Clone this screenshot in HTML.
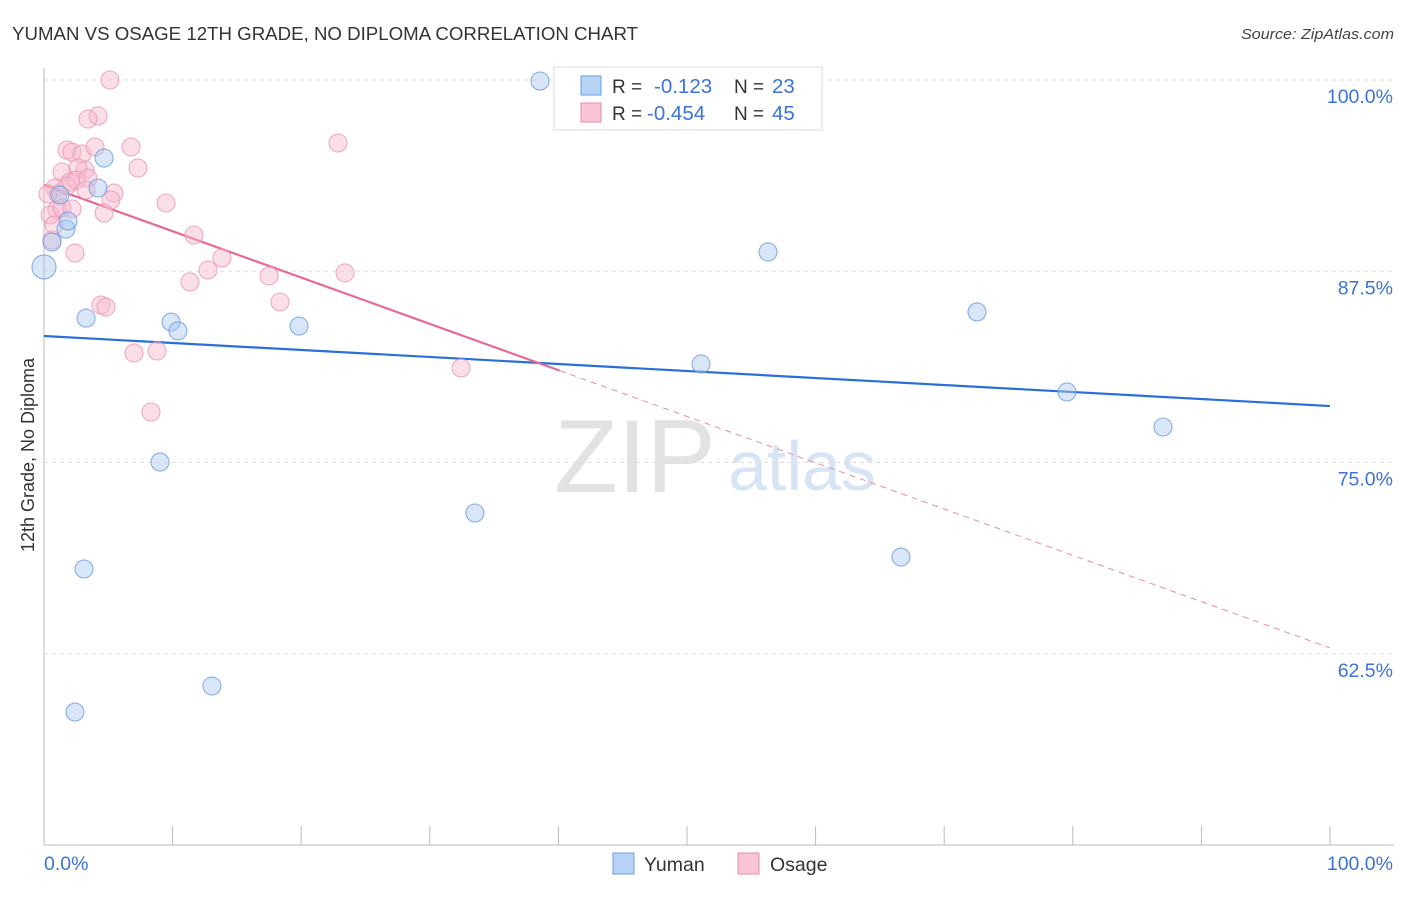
<!DOCTYPE html>
<html><head><meta charset="utf-8">
<style>
body{margin:0;background:#fff;font-family:"Liberation Sans",sans-serif;}
svg text{font-family:"Liberation Sans",sans-serif;}
</style></head>
<body>
<svg id="chart" width="1406" height="892" xmlns="http://www.w3.org/2000/svg">
<text x="12" y="40" font-size="18" fill="#333" textLength="626" lengthAdjust="spacingAndGlyphs">YUMAN VS OSAGE 12TH GRADE, NO DIPLOMA CORRELATION CHART</text>
<text x="1241" y="39" font-size="15" fill="#444" font-style="italic" textLength="153" lengthAdjust="spacingAndGlyphs">Source: ZipAtlas.com</text>
<g>
<text x="635" y="492" font-size="104" fill="#e2e2e2" text-anchor="middle" font-family="Liberation Serif,serif">ZIP</text>
<text x="802" y="490" font-size="70" fill="#d6e4f5" text-anchor="middle">atlas</text>
</g>
<g id="grid"></g>
<g id="axes"></g>
<g id="lines"></g>
<g id="points"></g>
<text transform="translate(34,455) rotate(-90)" font-size="18" fill="#333" text-anchor="middle">12th Grade, No Diploma</text>
<g>
<rect x="554" y="67" width="268" height="63" fill="#fff" stroke="#ddd"/>
<rect x="581" y="76" width="20" height="19" fill="#b8d3f5" stroke="#6a9ee0"/>
<rect x="581" y="103" width="20" height="19" fill="#f9c4d3" stroke="#e98aa8"/>
<text x="612" y="93" font-size="19" fill="#333">R = </text>
<text x="654" y="93" font-size="20.5" fill="#3b73d6">-0.123</text>
<text x="734" y="93" font-size="19" fill="#333">N = </text>
<text x="772" y="93" font-size="20.5" fill="#3b73d6">23</text>
<text x="612" y="120" font-size="19" fill="#333">R = </text>
<text x="647" y="120" font-size="20.5" fill="#3b73d6">-0.454</text>
<text x="734" y="120" font-size="19" fill="#333">N = </text>
<text x="772" y="120" font-size="20.5" fill="#3b73d6">45</text>
</g>
<g>
<rect x="613" y="853" width="21" height="21" fill="#b8d3f5" stroke="#6a9ee0"/>
<text x="644" y="871" font-size="19.5" fill="#333">Yuman</text>
<rect x="738" y="853" width="21" height="21" fill="#f9c4d3" stroke="#e98aa8"/>
<text x="770" y="871" font-size="19.5" fill="#333">Osage</text>
</g>
</svg>
<script>
const yTicks=[100,87.5,75,62.5];
const yTickLabels=["100.0%","87.5%","75.0%","62.5%"];
const xTickLabels=["0.0%","100.0%"];
const yumanX=[0,0.62,1.71,1.87,4.2,4.67,3.27,9.88,10.42,19.83,9.02,3.11,2.41,13.06,33.51,38.57,56.3,72.55,79.55,87.01,66.64,51.09,1.24];
const yumanY=[87.78,89.41,90.26,90.78,92.94,94.9,84.44,84.18,83.6,83.92,75.03,68.04,58.69,60.39,71.7,99.93,88.76,84.84,79.61,77.32,68.82,81.44,92.48];
const osageX=[5.13,4.2,3.42,1.79,2.18,2.95,3.97,6.77,22.86,7.31,1.4,3.19,2.64,2.02,2.49,3.42,0.86,5.44,5.21,1.09,1.01,0.47,1.4,2.18,4.67,9.49,11.66,2.41,12.75,13.84,11.35,17.5,23.41,18.35,4.43,4.82,7.0,8.79,8.32,32.43,0.62,1.79,0.31,3.27,0.78];
const osageY=[100,97.65,97.45,95.42,95.29,95.16,95.62,95.62,95.88,94.25,93.99,94.12,94.25,93.33,93.46,93.59,92.94,92.61,92.16,92.55,91.5,91.18,91.63,91.57,91.31,91.96,89.87,88.69,87.58,88.37,86.8,87.19,87.39,85.49,85.29,85.16,82.16,82.29,78.3,81.18,89.54,93.07,92.55,92.81,90.52];
const yumanTrend=[83.27,78.69];
const osageTrend=[93.14,62.88];
const osageSolidEnd=40.1;
const NS="http://www.w3.org/2000/svg";
const sx=v=>44+v*12.86;
const sy=v=>80+(100-v)*15.3;
function mk(tag,attrs,parent){const e=document.createElementNS(NS,tag);for(const k in attrs)e.setAttribute(k,attrs[k]);parent.appendChild(e);return e;}
const grid=document.getElementById('grid'),axes=document.getElementById('axes'),lines=document.getElementById('lines'),pts=document.getElementById('points');
yTicks.forEach((t,i)=>{
 const l=mk('line',{x1:44,x2:1394,y1:sy(t),y2:sy(t),stroke:'#ddd','stroke-dasharray':'4,4'},grid);
 
 
 const tx=mk('text',{x:1393,y:sy(t)+23,'font-size':19.5,fill:'#3b73d6','text-anchor':'end'},axes);
 tx.textContent=yTickLabels[i];
 
 
});
const ax=mk('line',{x1:44,x2:44,y1:68,y2:845,stroke:'#bbb'},axes);


const bx=mk('line',{x1:44,x2:1394,y1:845,y2:845,stroke:'#bbb'},axes);


for(let i=0;i<=10;i++){
 const tk=mk('line',{x1:sx(i*10),x2:sx(i*10),y1:826,y2:845,stroke:'#bbb'},axes);
 
 
}
const xl0=mk('text',{x:44,y:870,'font-size':19.5,fill:'#3b73d6'},axes);xl0.textContent=xTickLabels[0];


const xl1=mk('text',{x:1393,y:870,'font-size':19.5,fill:'#3b73d6','text-anchor':'end'},axes);xl1.textContent=xTickLabels[1];


function addPts(xs,ys,fill,stroke,name){
 xs.forEach((x,i)=>{
  const r=(x===0)?12:9;
  const c=mk('circle',{cx:sx(x),cy:sy(ys[i]),r:r,fill:fill,'fill-opacity':0.45,stroke:stroke,'stroke-opacity':0.8,'stroke-width':1.1},pts);
  
  
 });
}
addPts(osageX,osageY,'#f7b9cb','#eb98b3','osage-point');
addPts(yumanX,yumanY,'#a9c8f0','#6b9de0','yuman-point');
const yl=mk('line',{x1:sx(0),y1:sy(yumanTrend[0]),x2:sx(100),y2:sy(yumanTrend[1]),stroke:'#2a6fd6','stroke-width':2.2},lines);


const oy=v=>osageTrend[0]+(osageTrend[1]-osageTrend[0])*v/100;
const ol=mk('line',{x1:sx(0),y1:sy(oy(0)),x2:sx(osageSolidEnd),y2:sy(oy(osageSolidEnd)),stroke:'#e5689a','stroke-width':2.2},lines);


const od=mk('line',{x1:sx(osageSolidEnd),y1:sy(oy(osageSolidEnd)),x2:sx(100),y2:sy(oy(100)),stroke:'#e98aa8','stroke-width':1,'stroke-dasharray':'6,5'},lines);


</script>
</body></html>
